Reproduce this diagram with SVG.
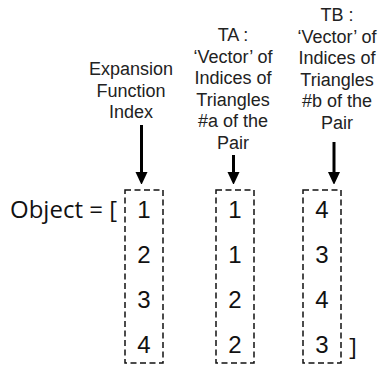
<svg xmlns="http://www.w3.org/2000/svg" width="381" height="368" viewBox="0 0 381 368">
  <style>
    .lbl { font-family: "Liberation Sans", Arial, sans-serif; font-size: 18px; fill: #222; text-anchor: middle; }
    .num { font-family: "Liberation Sans", Arial, sans-serif; font-size: 24px; fill: #111; text-anchor: middle; }
    .obj { font-family: "Open Sans", "Noto Sans", sans-serif; font-size: 24px; fill: #111; }
    .box { fill: none; stroke: #111; stroke-width: 1.5; stroke-dasharray: 6 3.5; }
    .arr { stroke: #000; stroke-width: 3; fill: none; }
  </style>
  <defs>
    <marker id="ah" markerWidth="4" markerHeight="4.4" refX="0" refY="2" orient="auto" markerUnits="strokeWidth">
      <path d="M0,0 L4.3,2 L0,4 Z" fill="#000"/>
    </marker>
  </defs>

  <text class="obj" x="10" y="218">Object = [</text>

  <g id="col-expansion">
    <text class="lbl" x="131" y="75">Expansion</text>
    <text class="lbl" x="131" y="97">Function</text>
    <text class="lbl" x="131" y="118">Index</text>
    <rect class="box" x="125" y="190" width="38" height="173"/>
    <text class="num" x="144" y="218">1</text>
    <text class="num" x="144" y="263">2</text>
    <text class="num" x="144" y="308">3</text>
    <text class="num" x="144" y="353">4</text>
  </g>

  <g id="col-ta">
    <text class="lbl" x="233" y="41">TA :</text>
    <text class="lbl" x="233" y="63">‘Vector’ of</text>
    <text class="lbl" x="233" y="84">Indices of</text>
    <text class="lbl" x="233" y="106">Triangles</text>
    <text class="lbl" x="233" y="127">#a of the</text>
    <text class="lbl" x="233" y="149">Pair</text>
    <rect class="box" x="216" y="190" width="38" height="173"/>
    <text class="num" x="235" y="218">1</text>
    <text class="num" x="235" y="263">1</text>
    <text class="num" x="235" y="308">2</text>
    <text class="num" x="235" y="353">2</text>
  </g>

  <g id="col-tb">
    <text class="lbl" x="337" y="21">TB :</text>
    <text class="lbl" x="337" y="43">‘Vector’ of</text>
    <text class="lbl" x="337" y="64">Indices of</text>
    <text class="lbl" x="337" y="86">Triangles</text>
    <text class="lbl" x="337" y="107">#b of the</text>
    <text class="lbl" x="337" y="129">Pair</text>
    <rect class="box" x="303" y="190" width="38" height="173"/>
    <text class="num" x="322" y="218">4</text>
    <text class="num" x="322" y="263">3</text>
    <text class="num" x="322" y="308">4</text>
    <text class="num" x="322" y="353">3</text>
    <text class="obj" x="349" y="355">]</text>
  </g>

  <g id="connectors">
    <line class="arr" x1="141.5" y1="125" x2="141.5" y2="172" marker-end="url(#ah)"/>
    <line class="arr" x1="233.5" y1="155" x2="233.5" y2="172" marker-end="url(#ah)"/>
    <line class="arr" x1="334" y1="142" x2="334" y2="172" marker-end="url(#ah)"/>
  </g>
</svg>
